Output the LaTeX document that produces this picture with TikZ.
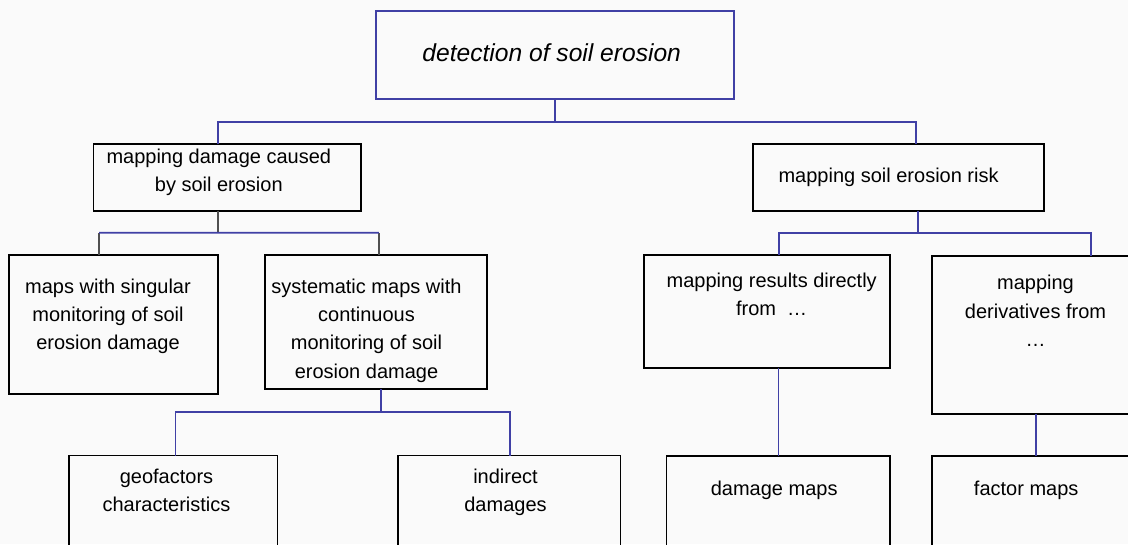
\documentclass[tikz,border=0pt]{standalone}
\usepackage{fontspec}
\setmainfont{Liberation Sans}
\newcommand\bodyfont{\fontsize{20}{28.3}\selectfont}
\newcommand\rootfont{\fontsize{24.6}{30}\selectfont\itshape}
\definecolor{linkblue}{RGB}{64,64,165}
\definecolor{linkgray}{RGB}{80,80,80}
\definecolor{bgc}{RGB}{250,250,250}
\tikzset{
  box/.style={draw=black, line width=1.8pt, inner sep=0pt, outer sep=0pt},
  rootbox/.style={box, draw=linkblue},
  txt/.style={anchor=north, yshift=19.81pt, inner sep=0pt, align=center, font=\bodyfont, execute at begin node=\strut},
  roottxt/.style={anchor=north, yshift=21pt, inner sep=0pt, align=center, font=\rootfont, execute at begin node=\strut},
  conn/.style={draw=linkblue, line width=1.8pt},
  gconn/.style={draw=linkgray, line width=1.8pt}
}
\begin{document}
\begin{tikzpicture}[x=1pt,y=-1pt]
\useasboundingbox (0,0) rectangle (1128,544);
\fill[bgc] (0,0) rectangle (1128,544);
\clip (0,0) rectangle (1128,544);
% boxes
\node[rootbox, minimum width=358.6pt, minimum height=88.3pt] (root) at (555,55.15) {};
\node[box, minimum width=267.3pt, minimum height=66.4pt] (A) at (227.15,177.5) {};
\node[box, minimum width=209.3pt, minimum height=138.7pt] (A1) at (113.65,324.35) {};
\node[box, minimum width=221.7pt, minimum height=134.3pt] (A2) at (375.85,322.15) {};
\node[box, minimum width=208.5pt, minimum height=104.5pt] (A21) at (173.25,507.75) {};
\node[box, minimum width=222.3pt, minimum height=104.5pt] (A22) at (509.35,507.75) {};
\node[box, minimum width=291.4pt, minimum height=66.4pt] (B) at (898.5,177.5) {};
\node[box, minimum width=246.3pt, minimum height=112.7pt] (B1) at (767.15,311.35) {};
\node[box, minimum width=223.8pt, minimum height=104pt] (B11) at (778.4,508) {};
\node[box, minimum width=218.3pt, minimum height=158pt] (B2) at (1040.85,335) {};
\node[box, minimum width=218.3pt, minimum height=104pt] (B21) at (1040.85,508) {};
% texts
\node[roottxt] (troot) at (551.7,61) {detection of soil erosion};
\node[txt] (tA) at (218.8,168.5) {mapping damage caused\\by soil erosion};
\node[txt] (tA1) at (108,298.3) {maps with singular\\monitoring of soil\\erosion damage};
\node[txt] (tA2) at (366.5,298.3) {systematic maps with\\continuous\\monitoring of soil\\erosion damage};
\node[txt] (tA21) at (166.5,488.3) {geofactors\\characteristics};
\node[txt] (tA22) at (505.5,488.3) {indirect\\damages};
\node[txt] (tB) at (888.6,182.5) {mapping soil erosion risk};
\node[txt] (tB1) at (771.7,292.7) {mapping results directly\\from\ \ …\hspace{14pt}};
\node[txt] (tB11) at (774.2,495) {damage maps};
\node[txt] (tB2) at (1035.5,295) {mapping\\derivatives from\\…};
\node[txt] (tB21) at (1026.2,495.5) {factor maps};
% connectors
\draw[conn] (root.south) -- ++(0,22.4) coordinate (j0);
\draw[conn] ([xshift=-8.85pt]A.north) |- (j0) -| ([xshift=17.3pt]B.north);
\draw[gconn] ([xshift=-8.85pt]A.south) -- ++(0,22) coordinate (j1);
\draw[gconn] ([xshift=-14.65pt]A1.north) -- ++(0,-22.3) coordinate (j1a);
\draw[gconn] ([xshift=2.95pt]A2.north) -- ++(0,-22.3) coordinate (j1b);
\draw[conn] (j1a) -- (j1b);
\draw[conn] ([xshift=5.45pt]A2.south) -- ++(0,22.7) coordinate (j2);
\draw[conn] ([xshift=2.25pt]A21.north) |- (j2) -| ([xshift=0.65pt]A22.north);
\draw[conn] ([xshift=19.8pt]B.south) -- ++(0,22) coordinate (j3);
\draw[conn] ([xshift=11.55pt]B1.north) |- (j3) -| ([xshift=49.85pt]B2.north);
\draw[conn] (B11.north) -- (B11.north |- B1.south);
\draw[conn] ([xshift=-4.85pt]B21.north) -- ([xshift=-4.85pt]B2.south);
\end{tikzpicture}
\end{document}
